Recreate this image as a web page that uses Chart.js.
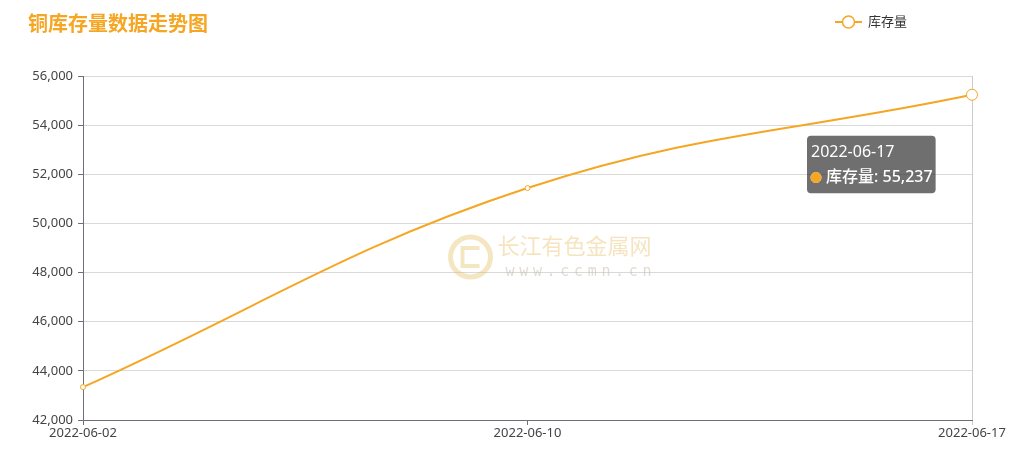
<!DOCTYPE html>
<html>
<head>
<meta charset="utf-8">
<script src="https://cdn.jsdelivr.net/npm/chart.js@4/dist/chart.umd.min.js"></script>
<style>
html,body{margin:0;padding:0;background:#fff;}
#wrap{position:relative;width:1016px;height:455px;}
</style>
</head>
<body>
<div id="wrap"><canvas id="c" width="1016" height="455"></canvas></div>
<script>
const categories = ['2022-06-02', '2022-06-10', '2022-06-17'];
const seriesName = '库存量';
const inventory = [43340, 51440, 55237];
const yTicks = [42000, 44000, 46000, 48000, 50000, 52000, 54000, 56000];
const titleText = '铜库存量数据走势图';
const watermarkCn = '长江有色金属网';
const watermarkUrl = 'www.ccmn.cn';

const ORANGE = '#f5a623';
const FONT = '"Noto Sans", "Noto Sans CJK SC", sans-serif';

const decorPlugin = {
  id: 'decor',
  beforeDatasetsDraw(chart) {
    const ctx = chart.ctx;
    const a = chart.chartArea;
    const cx = (a.left + a.right) / 2;
    const cy = (a.top + a.bottom) / 2;
    ctx.save();
    const lx = cx - 57, ly = cy + 9;
    ctx.strokeStyle = 'rgba(232,196,110,0.42)';
    ctx.lineWidth = 5;
    ctx.beginPath(); ctx.arc(lx, ly, 20, 0, Math.PI * 2); ctx.stroke();
    ctx.lineWidth = 4;
    ctx.beginPath();
    ctx.moveTo(lx + 9, ly - 9); ctx.lineTo(lx - 8, ly - 9); ctx.lineTo(lx - 8, ly + 9); ctx.lineTo(lx + 9, ly + 9);
    ctx.stroke();
    ctx.fillStyle = 'rgba(232,196,110,0.45)';
    ctx.font = '22px ' + FONT;
    ctx.textBaseline = 'middle';
    ctx.textAlign = 'left';
    ctx.fillText(watermarkCn, cx - 30, cy + 0);
    ctx.font = '15px "DejaVu Sans Mono", monospace';
    ctx.fillStyle = 'rgba(200,190,170,0.55)';
    let x = cx - 22;
    watermarkUrl.split('').forEach(ch => { ctx.fillText(ch, x, cy + 24); x += 13.7; });
    ctx.restore();
  },
  afterDraw(chart) {
    const ctx = chart.ctx;
    ctx.save();
    ctx.fillStyle = ORANGE;
    ctx.font = 'bold 20px ' + FONT;
    ctx.textBaseline = 'middle';
    ctx.textAlign = 'left';
    ctx.fillText(titleText, 28, 25);
    ctx.strokeStyle = ORANGE;
    ctx.lineWidth = 2;
    ctx.beginPath(); ctx.moveTo(835, 22); ctx.lineTo(862, 22); ctx.stroke();
    ctx.fillStyle = '#fff';
    ctx.lineWidth = 1.5;
    ctx.beginPath(); ctx.arc(848.5, 22, 6, 0, Math.PI * 2); ctx.fill(); ctx.stroke();
    ctx.fillStyle = '#333';
    ctx.font = '13px ' + FONT;
    ctx.fillText(seriesName, 868, 22);
    ctx.restore();
  }
};

Chart.Tooltip.positioners.leftBelow = function(items) {
  if (!items.length) return false;
  const el = items[0].element;
  return { x: el.x - 165 + 4, y: el.y + 41 };
};

const chart = new Chart(document.getElementById('c'), {
  type: 'line',
  data: {
    labels: categories,
    datasets: [{
      label: seriesName,
      data: inventory,
      borderColor: ORANGE,
      borderWidth: 2,
      tension: 0.4,
      pointRadius: 2.5,
      pointBackgroundColor: '#fff',
      pointBorderColor: ORANGE,
      pointBorderWidth: 1,
      pointHoverRadius: 5.5,
      pointHoverBorderWidth: 1,
      pointHoverBackgroundColor: '#fff',
      pointHoverBorderColor: ORANGE,
      fill: false
    }]
  },
  options: {
    responsive: false,
    animation: false,
    events: [],
    layout: { padding: { top: 76, left: 0, right: 44, bottom: 0 } },
    plugins: {
      legend: { display: false },
      title: { display: false },
      tooltip: {
        enabled: true,
        position: 'leftBelow',
        xAlign: 'left',
        yAlign: 'top',
        caretSize: 0,
        caretPadding: 0,
        cornerRadius: 4,
        backgroundColor: 'rgba(50,50,50,0.7)',
        titleColor: '#fff',
        bodyColor: '#fff',
        titleFont: { family: FONT, size: 16, weight: 'normal' },
        bodyFont: { family: FONT, size: 16, weight: '500' },
        titleMarginBottom: 6,
        padding: { left: 4, right: 3, top: 7, bottom: 6 },
        displayColors: true,
        usePointStyle: true,
        boxWidth: 10,
        boxHeight: 10,
        boxPadding: 3,
        callbacks: {
          labelColor: () => ({ borderColor: ORANGE, backgroundColor: ORANGE }),
          labelPointStyle: () => ({ pointStyle: 'circle', rotation: 0 })
        }
      }
    },
    scales: {
      x: {
        type: 'category',
        offset: false,
        border: { display: true, color: '#6e7079', width: 1 },
        grid: {
          display: true,
          drawOnChartArea: true,
          color: (ctx) => (ctx.index === categories.length - 1 ? '#ccc' : 'rgba(0,0,0,0)'),
          tickColor: (ctx) => (ctx.index === categories.length - 1 ? '#ccc' : '#6e7079'),
          tickLength: 5
        },
        ticks: {
          color: '#444',
          font: { family: FONT, size: 13 },
          padding: 0,
          maxRotation: 0,
          autoSkip: false
        },
        afterFit: (s) => { s.height = 35; }
      },
      y: {
        min: 42000,
        max: 56000,
        afterBuildTicks: (s) => { s.ticks = yTicks.map(v => ({ value: v })); },
        border: { display: true, color: '#6e7079', width: 1 },
        grid: {
          color: '#d9d9d9',
          tickColor: '#6e7079',
          tickLength: 5
        },
        ticks: {
          color: '#444',
          font: { family: FONT, size: 13 },
          padding: 5,
          callback: (v) => Number(v).toLocaleString('en-US')
        },
        afterFit: (s) => { s.width = 83; }
      }
    }
  },
  plugins: [decorPlugin]
});

chart.setActiveElements([{ datasetIndex: 0, index: inventory.length - 1 }]);
chart.tooltip.setActiveElements([{ datasetIndex: 0, index: inventory.length - 1 }], { x: 0, y: 0 });
chart.update('none');
</script>
</body>
</html>
